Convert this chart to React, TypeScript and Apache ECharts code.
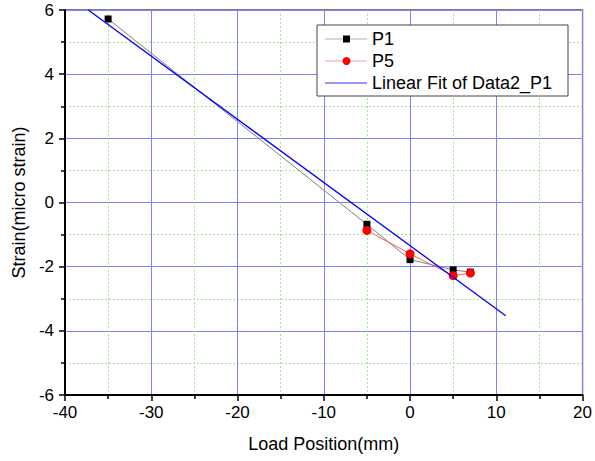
import React, { useEffect, useRef } from "react";
import * as echarts from "echarts";

const p1X = [-35, -5, 0, 5, 7];
const p1Y = [5.72, -0.68, -1.78, -2.1, -2.17];
const p5X = [-5, 0, 5, 7];
const p5Y = [-0.87, -1.6, -2.28, -2.2];
const fitX = [-37.3, 11.1];
const fitY = [6.0, -3.53];
const legendNames = ["P1", "P5", "Linear Fit of Data2_P1"];

const FONT = "'Liberation Sans', Arial, sans-serif";

export default function App() {
  const ref = useRef<HTMLDivElement>(null);
  useEffect(() => {
    if (!ref.current) return;
    const chart = echarts.init(ref.current, null, { renderer: "svg" });
    const zip = (xs: number[], ys: number[]) => xs.map((x, i) => [x, ys[i]]);
    const axisCommon = {
      axisLine: { show: true, onZero: false, lineStyle: { color: "#000", width: 2 } },
      axisTick: { show: true, inside: false, length: 6, lineStyle: { color: "#000", width: 1.5 } },
      minorTick: { show: true, splitNumber: 2, length: 4, lineStyle: { color: "#000", width: 1.5 } },
      splitLine: { show: true, lineStyle: { color: "#8080ff", width: 1 } },
      minorSplitLine: { show: true, lineStyle: { color: "#a0e898", width: 1, type: [2, 2] } },
      axisLabel: { color: "#000", fontSize: 17, fontFamily: FONT },
      nameTextStyle: { color: "#000", fontSize: 18, fontFamily: FONT },
    };
    const lx = 317, ly = 25, lw = 251, lh = 71;
    const rowY = [39, 61, 83];
    const graphic: any[] = [
      {
        type: "rect", shape: { x: lx, y: ly, width: lw, height: lh },
        style: { fill: "#fff", stroke: "#444", lineWidth: 1 }, z: 100,
      },
      // P1
      { type: "line", shape: { x1: 325, y1: rowY[0], x2: 367, y2: rowY[0] }, style: { stroke: "#b0b0b0", lineWidth: 1.2 }, z: 101 },
      { type: "rect", shape: { x: 343, y: rowY[0] - 3.5, width: 7, height: 7 }, style: { fill: "#000" }, z: 102 },
      // P5
      { type: "line", shape: { x1: 325, y1: rowY[1], x2: 367, y2: rowY[1] }, style: { stroke: "#f4a0a0", lineWidth: 1.2 }, z: 101 },
      { type: "circle", shape: { cx: 346.5, cy: rowY[1], r: 4 }, style: { fill: "#ff0000" }, z: 102 },
      // Fit
      { type: "line", shape: { x1: 325, y1: rowY[2], x2: 367, y2: rowY[2] }, style: { stroke: "#3030ff", lineWidth: 1.2 }, z: 101 },
    ];
    legendNames.forEach((n, i) => {
      graphic.push({
        type: "text", x: 372, y: rowY[i], z: 103,
        style: { text: n, fill: "#000", font: `18px ${FONT}`, textVerticalAlign: "middle", verticalAlign: "middle" },
      });
    });
    chart.setOption({
      animation: false,
      backgroundColor: "#fff",
      grid: {
        left: 65, right: 11, top: 10, bottom: 66,
        show: true, borderColor: "#000", borderWidth: 1.2, containLabel: false,
      },
      xAxis: {
        type: "value", min: -40, max: 20, interval: 10,
        name: "Load Position(mm)", nameLocation: "middle", nameGap: 40,
        ...axisCommon,
        axisLabel: { ...axisCommon.axisLabel, margin: 9 },
      },
      yAxis: {
        type: "value", min: -6, max: 6, interval: 2,
        name: "Strain(micro strain)", nameLocation: "middle", nameGap: 37,
        ...axisCommon,
        axisLabel: { ...axisCommon.axisLabel, margin: 11 },
      },
      graphic,
      series: [
        {
          name: "P1", type: "line", data: zip(p1X, p1Y),
          symbol: "rect", symbolSize: 7,
          itemStyle: { color: "#000" },
          lineStyle: { color: "#808080", width: 1 },
          z: 3,
        },
        {
          name: "P5", type: "line", data: zip(p5X, p5Y),
          symbol: "circle", symbolSize: 9,
          itemStyle: { color: "#ff0000" },
          lineStyle: { color: "#f06060", width: 1 },
          z: 4,
        },
        {
          name: "Linear Fit of Data2_P1", type: "line", data: zip(fitX, fitY),
          symbol: "none", showSymbol: false,
          itemStyle: { color: "#0000ff" },
          lineStyle: { color: "#0000ff", width: 1.3 },
          z: 5,
        },
      ],
    });
    return () => chart.dispose();
  }, []);
  return <div ref={ref} style={{ width: 595, height: 461, position: "absolute", left: 0, top: 0 }} />;
}
